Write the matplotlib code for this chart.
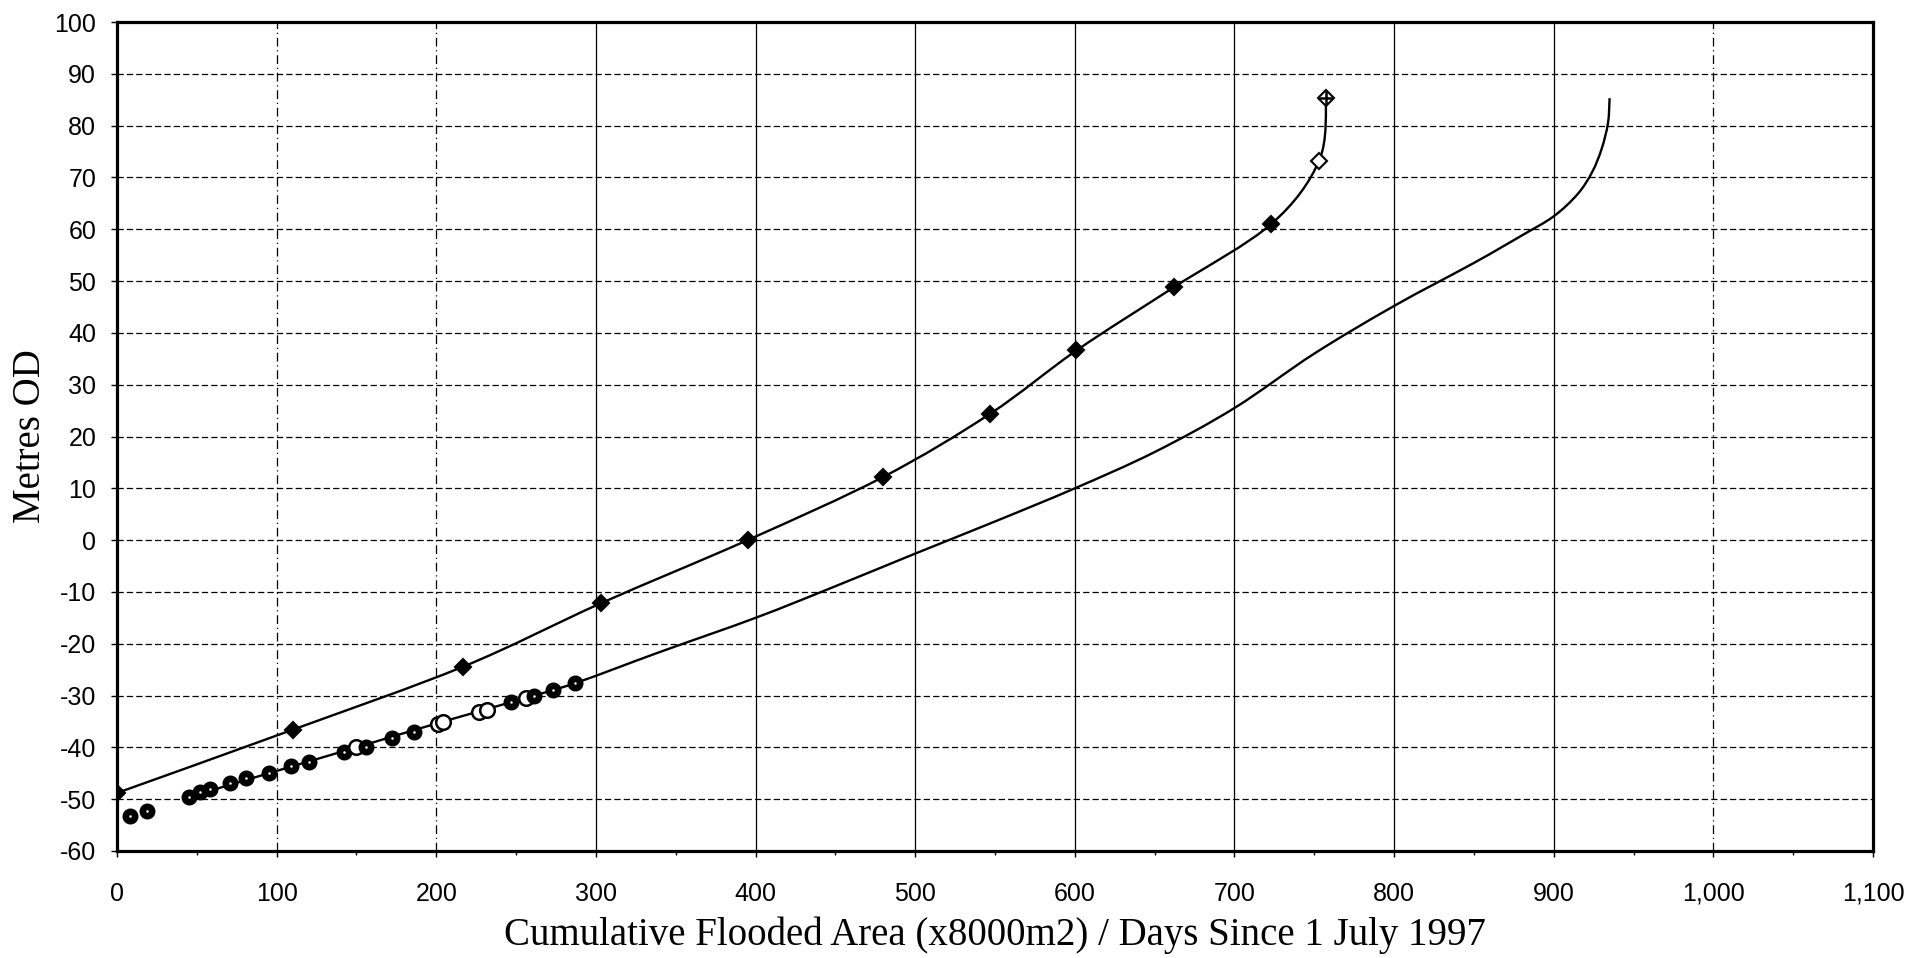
import numpy as np
import matplotlib
matplotlib.use("Agg")
import matplotlib.pyplot as plt
from matplotlib.path import Path
from matplotlib.patches import PathPatch
from matplotlib.ticker import MultipleLocator, FuncFormatter

plt.rcParams["axes.unicode_minus"] = False

# Surveyed levels (diamonds), 40 ft steps in metres
level_x = [0, 110, 217, 303, 395, 480, 547, 601, 662, 723, 753, 757.5]
level_y = [-48.8, -36.6, -24.4, -12.2, 0.0, 12.2, 24.4, 36.6, 48.8, 61.0, 73.2, 85.3]
level_kind = ["f"] * 10 + ["o", "p"]

# Observed water levels (circles)
obs_x = [8, 19, 45, 52, 58, 71, 81, 95, 109, 120, 142, 150, 156, 172, 186,
         201, 204, 227, 232, 247, 256, 261, 273, 287]
obs_y = [-53.3, -52.3, -49.6, -48.6, -48.1, -46.9, -45.9, -45.0, -43.6, -42.9,
         -40.9, -40.0, -40.0, -38.2, -37.1, -35.5, -35.1, -33.2, -32.8, -31.3,
         -30.5, -30.1, -29.0, -27.6]
obs_open = [150, 201, 204, 227, 232, 256]

# Projected rise
proj_x = [45, 95, 150, 200, 250, 287, 340, 400, 450, 500, 550, 600, 650, 700,
          750, 800, 850, 880, 900, 915, 924, 930, 934, 935]
proj_y = [-49.6, -45.0, -40.0, -35.4, -31.0, -27.6, -21.6, -15.0, -8.9, -2.6,
          3.6, 10.0, 17.0, 25.5, 36.0, 45.2, 53.5, 58.8, 62.5, 66.8, 71.0, 75.5,
          80.5, 85.3]

x_ticks = list(range(0, 1101, 100))
y_ticks = list(range(-60, 101, 10))


def smooth_path(xs, ys):
    # Catmull-Rom through the points, written as cubic Bezier segments
    p = np.column_stack([xs, ys]).astype(float)
    p = np.vstack([p[0], p, p[-1]])
    verts = [p[1]]
    codes = [Path.MOVETO]
    for i in range(1, len(p) - 2):
        c1 = p[i] + (p[i + 1] - p[i - 1]) / 6.0
        c2 = p[i + 1] - (p[i + 2] - p[i]) / 6.0
        verts += [c1, c2, p[i + 1]]
        codes += [Path.CURVE4] * 3
    return Path(verts, codes)


fig = plt.figure(figsize=(19.31, 9.58), dpi=100, facecolor="white")
ax = fig.add_axes([117 / 1931, 1 - 851 / 958, (1873 - 117) / 1931, (851 - 22) / 958])

ax.set_xlim(0, 1100)
ax.set_ylim(-60, 100)

# grid: dashed horizontals, mostly solid verticals
for yv in y_ticks[1:-1]:
    ax.axhline(yv, color="black", lw=0.9, ls=(0, (5, 2.5)), zorder=1)
for xv in x_ticks[1:-1]:
    style = (0, (7, 3, 1, 3)) if xv in (100, 200, 1000) else "-"
    ax.axvline(xv, color="black", lw=0.9, ls=style, zorder=1)

ax.add_patch(PathPatch(smooth_path(level_x, level_y), fill=False,
                       edgecolor="black", lw=1.7, zorder=3))
ax.add_patch(PathPatch(smooth_path(proj_x, proj_y), fill=False,
                       edgecolor="black", lw=1.7, zorder=3))

for xv, yv, kind in zip(level_x, level_y, level_kind):
    face = "black" if kind == "f" else "white"
    ax.plot(xv, yv, marker="D", ms=8, mfc=face, mec="black", mew=1.5, zorder=5)
    if kind == "p":
        ax.plot(xv, yv, marker="+", ms=10, mec="black", mew=1.8, zorder=6)

for xv, yv in zip(obs_x, obs_y):
    if xv in obs_open:
        ax.plot(xv, yv, marker="o", ms=10.5, mfc="white", mec="black", mew=1.8, zorder=5)
    else:
        ax.plot(xv, yv, marker="o", ms=10.5, mfc="black", mec="black", mew=1, zorder=5)
        ax.plot(xv, yv, marker="o", ms=1.8, mfc="white", mec="white", mew=0, zorder=6)

ax.set_xticks(x_ticks)
ax.set_yticks(y_ticks)
ax.xaxis.set_minor_locator(MultipleLocator(50))
ax.xaxis.set_major_formatter(FuncFormatter(lambda v, pos: "{:,.0f}".format(v)))
ax.tick_params(axis="both", which="both", direction="out", color="black",
               width=1, labelsize=18)
ax.tick_params(axis="y", which="major", length=4, pad=11)
ax.tick_params(axis="x", which="major", length=4, pad=18)
ax.tick_params(axis="x", which="minor", length=3)
for lab in ax.get_xticklabels() + ax.get_yticklabels():
    lab.set_family("Liberation Sans")

for sp in ax.spines.values():
    sp.set_linewidth(2.3)
    sp.set_color("black")
    sp.set_zorder(7)

ax.set_xlabel("Cumulative Flooded Area (x8000m2) / Days Since 1 July 1997",
              family="Liberation Serif", fontsize=28, labelpad=8)
ax.set_ylabel("Metres OD", family="Liberation Serif", fontsize=28, labelpad=4)

fig.savefig("out.png", dpi=100, facecolor="white")
